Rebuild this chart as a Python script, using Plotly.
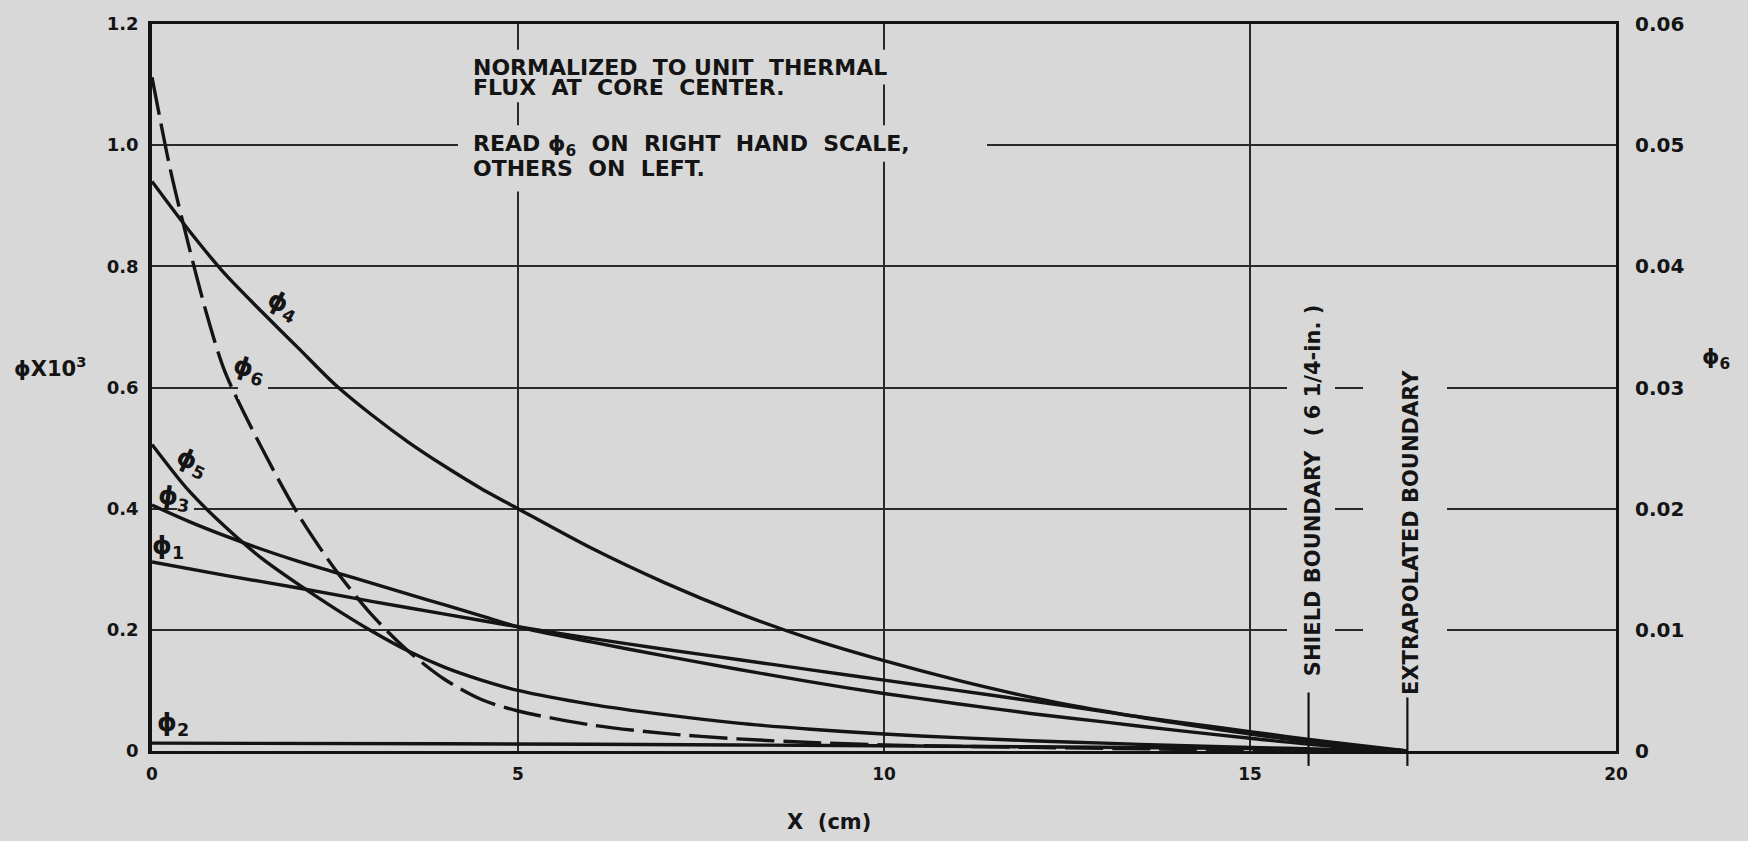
import plotly.graph_objects as go

# ---------------- data ----------------
x_ticks = [0, 5, 10, 15, 20]
x_tick_text = ["0", "5", "10", "15", "20"]
y_left_ticks = [0, 0.2, 0.4, 0.6, 0.8, 1.0, 1.2]
y_left_text = ["0", "0.2", "0.4", "0.6", "0.8", "1.0", "1.2"]
y_right_ticks = [0, 0.01, 0.02, 0.03, 0.04, 0.05, 0.06]
y_right_text = ["0", "0.01", "0.02", "0.03", "0.04", "0.05", "0.06"]

# left scale (phi x 10^3)
phi1_x = [0, 1, 2, 3, 4, 5, 6, 7, 8, 9, 10, 11, 12, 13, 14, 15, 16, 17.15]
phi1_y = [0.312, 0.290, 0.269, 0.247, 0.226, 0.205, 0.186, 0.168, 0.151, 0.134, 0.117, 0.100,
          0.083, 0.065, 0.048, 0.032, 0.016, 0.0]

phi2_x = [0, 4, 8, 12, 15, 17.15]
phi2_y = [0.013, 0.012, 0.010, 0.007, 0.004, 0.0]

phi3_x = [0, 0.5, 1, 1.5, 2, 2.5, 3, 3.5, 4, 4.5, 5, 6, 7, 8, 9, 10, 11, 12, 13, 14, 15, 16, 17.15]
phi3_y = [0.406, 0.379, 0.355, 0.333, 0.313, 0.295, 0.277, 0.259, 0.241, 0.223, 0.205, 0.180,
          0.157, 0.135, 0.114, 0.095, 0.078, 0.062, 0.048, 0.034, 0.021, 0.009, 0.0]

phi4_x = [0, 0.5, 1, 1.5, 2, 2.5, 3, 3.5, 4, 4.5, 5, 6, 7, 8, 9, 10, 11, 12, 13, 14, 15, 16, 17.15]
phi4_y = [0.94, 0.86, 0.787, 0.725, 0.665, 0.605, 0.555, 0.51, 0.47, 0.433, 0.40, 0.335, 0.278,
          0.228, 0.185, 0.149, 0.117, 0.089, 0.066, 0.046, 0.028, 0.013, 0.0]

phi5_x = [0, 0.5, 1, 1.5, 2, 2.5, 3, 3.5, 4, 4.5, 5, 6, 7, 8, 9, 10, 11, 12, 13, 14, 15, 16, 17.15]
phi5_y = [0.506, 0.43, 0.37, 0.318, 0.275, 0.235, 0.198, 0.165, 0.138, 0.117, 0.100, 0.077, 0.060,
          0.046, 0.036, 0.028, 0.022, 0.017, 0.013, 0.009, 0.006, 0.003, 0.0]

# right scale (phi6)
phi6_x = [0, 0.25, 0.5, 0.75, 1, 1.5, 2, 2.5, 3, 3.5, 4, 4.5, 5, 6, 7, 8, 9, 10, 12, 14, 17.15]
phi6_y = [0.0556, 0.048, 0.04175, 0.036, 0.03125, 0.025, 0.0195, 0.015, 0.01125, 0.00825, 0.0059,
          0.00425, 0.0033, 0.00215, 0.00145, 0.001, 0.0007, 0.0005, 0.0003, 0.00015, 0.0]

shield_x = 15.8
extrap_x = 17.15

# ---------------- style ----------------
BG = "#d8d8d8"
INK = "#141414"
GRID = "#2a2a2a"
FONT = "DejaVu Sans"

# plot-area geometry (pixels)
L, R, T, B = 152, 132, 18, 90
W, H = 1748, 841
PW, PH = W - L - R, H - T - B


def px(xp):
    return (xp - L) / PW


def py(yp):
    return (H - B - yp) / PH


fig = go.Figure()

solid = dict(color=INK, width=3.4, shape="spline", smoothing=0.8)
for xs, ys in [(phi1_x, phi1_y), (phi2_x, phi2_y), (phi3_x, phi3_y), (phi4_x, phi4_y), (phi5_x, phi5_y)]:
    fig.add_trace(go.Scatter(x=xs, y=ys, mode="lines", line=solid, hoverinfo="skip"))

fig.add_trace(go.Scatter(x=phi6_x, y=phi6_y, mode="lines", yaxis="y2",
                         line=dict(color=INK, width=3.4, dash="38px,9px", shape="spline", smoothing=0.8),
                         hoverinfo="skip"))

annotations = []


def note(text, x, y, size=22, xanchor="left", angle=0, xref="x", yref="y"):
    annotations.append(dict(text=text, x=x, y=y, xref=xref, yref=yref, showarrow=False,
                            xanchor=xanchor, yanchor="middle", textangle=angle,
                            font=dict(family=FONT, size=size, color=INK, weight="bold")))


# text block
note("NORMALIZED  TO UNIT  THERMAL", 4.36, 1.129)
note("FLUX  AT  CORE  CENTER.", 4.36, 1.095)
note("READ ϕ<sub>6</sub>  ON  RIGHT  HAND  SCALE,", 4.36, 0.999)
note("OTHERS  ON  LEFT.", 4.36, 0.961)

# boundary labels
note("SHIELD BOUNDARY  ( 6 1/4-in. )", 15.87, 0.43, size=21, xanchor="center", angle=-90)
note("EXTRAPOLATED BOUNDARY", 17.2, 0.36, size=21, xanchor="center", angle=-90)

# curve labels
note("ϕ<sub>4</sub>", 1.79, 0.735, size=25, xanchor="center", angle=28)
note("ϕ<sub>6</sub>", 1.32, 0.629, size=25, xanchor="center", angle=18)
note("ϕ<sub>5</sub>", 0.55, 0.476, size=25, xanchor="center", angle=25)
note("ϕ<sub>3</sub>", 0.30, 0.417, size=25, xanchor="center", angle=8)
note("ϕ<sub>1</sub>", 0.22, 0.336, size=25, xanchor="center")
note("ϕ<sub>2</sub>", 0.29, 0.045, size=25, xanchor="center")

# axis titles
note("ϕX10<sup>3</sup>", -0.0697, 0.528, size=21, xanchor="center", xref="paper", yref="paper")
note("ϕ<sub>6</sub>", 1.068, 0.540, size=22, xanchor="center", xref="paper", yref="paper")
note("X  (cm)", 0.4624, -0.098, size=21, xanchor="center", xref="paper", yref="paper")

# paper-coloured masks that interrupt the grid behind lettering (pixel boxes)
mask_boxes = [
    (462, 935, 44, 79),      # text line 1
    (462, 818, 72, 97),      # text line 2
    (458, 987, 120, 157),    # text line 3
    (462, 732, 152, 187),    # text line 4
    (238, 268, 372, 396),    # phi6 label
    (177, 194, 503, 511),    # phi3 label
    (1287, 1335, 295, 688),  # shield boundary text
    (1363, 1447, 362, 692),  # extrapolated boundary text
]
shapes = []
for x0, x1, y0, y1 in mask_boxes:
    shapes.append(dict(type="rect", xref="paper", yref="paper", x0=px(x0), x1=px(x1),
                       y0=py(y1), y1=py(y0), fillcolor=BG, line=dict(width=0), layer="above"))

shapes += [
    dict(type="line", xref="x", yref="paper", x0=shield_x, x1=shield_x, y0=py(766), y1=py(692),
         line=dict(color=INK, width=2.2)),
    dict(type="line", xref="x", yref="paper", x0=extrap_x, x1=extrap_x, y0=py(766), y1=py(697),
         line=dict(color=INK, width=2.2)),
]

fig.update_layout(
    width=W, height=H,
    margin=dict(l=L, r=R, t=T, b=B),
    paper_bgcolor=BG, plot_bgcolor=BG,
    showlegend=False,
    annotations=annotations,
    shapes=shapes,
    xaxis=dict(range=[0, 20], tickvals=x_ticks, ticktext=x_tick_text, showgrid=True,
               gridcolor=GRID, gridwidth=2, showline=True, linecolor=INK, linewidth=3,
               mirror=True, zeroline=False, ticks="",
               tickfont=dict(family=FONT, size=17, color=INK, weight="bold"), ticklabelstandoff=6),
    yaxis=dict(range=[0, 1.2], tickvals=y_left_ticks, ticktext=y_left_text, showgrid=True,
               gridcolor=GRID, gridwidth=2, showline=True, linecolor=INK, linewidth=3.5,
               zeroline=False, ticks="",
               tickfont=dict(family=FONT, size=18, color=INK, weight="bold"), ticklabelstandoff=6),
    yaxis2=dict(range=[0, 0.06], tickvals=y_right_ticks, ticktext=y_right_text, overlaying="y",
                side="right", showgrid=False, showline=True, linecolor=INK, linewidth=3,
                zeroline=False, ticks="",
                tickfont=dict(family=FONT, size=20, color=INK, weight="bold"), ticklabelstandoff=12),
)

fig.write_html("out.html")
